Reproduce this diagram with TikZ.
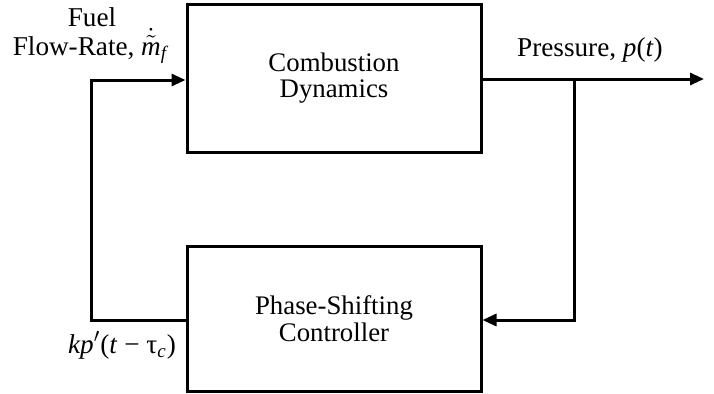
\documentclass[tikz,border=0pt]{standalone}
\usepackage{amsmath}
\usepackage{fontspec}
\setmainfont{Liberation Serif}
\usetikzlibrary{arrows.meta}
\tikzset{
  blk/.style={draw, line width=1.5pt, rectangle, minimum width=147pt, inner sep=0pt, align=center, font=\fontsize{13.4}{13.3}\selectfont},
  lbl/.style={inner sep=0pt, anchor=base, font=\fontsize{13.6}{13.5}\selectfont},
  wire/.style={line width=1.5pt},
  arr/.style={wire, -{Triangle[length=7pt,width=6pt]}}
}
\begin{document}
\begin{tikzpicture}[x=0.5pt,y=-0.5pt]
\useasboundingbox (0,0) rectangle (714,393);
\node[blk, minimum height=74pt] (comb) at (334,78) {Combustion\\Dynamics};
\node[blk, minimum height=72.5pt] (ctrl) at (334,318.5) {Phase-Shifting\\Controller};
\coordinate (out) at (704,79);
\coordinate (br) at (574,79);
\coordinate (fbl) at (91,320);
\coordinate (fbt) at (91,80);
\coordinate (brd) at (574,320);
\draw[arr] (comb.east |- out) -- (out);
\draw[arr, line join=miter] (br) -- (brd) -- (ctrl.east |- brd);
\draw[arr, line join=miter] (ctrl.west |- fbl) -- (fbl) -- (fbt) -- (comb.west |- fbt);
\node[lbl] (fuel) at (92,26) {Fuel};
\node[lbl] (flow) at (90,55) {Flow-Rate, $\dot{\tilde{\textit{m}}}_{\textit{f}}$};
\node[lbl] (press) at (590,56) {Pressure, \textit{p}(\textit{t})};
\node[lbl] (kp) at (122,353) {\textit{kp}$'$(\textit{t} − τ\textsubscript{\textit{c}})};
\end{tikzpicture}
\end{document}
